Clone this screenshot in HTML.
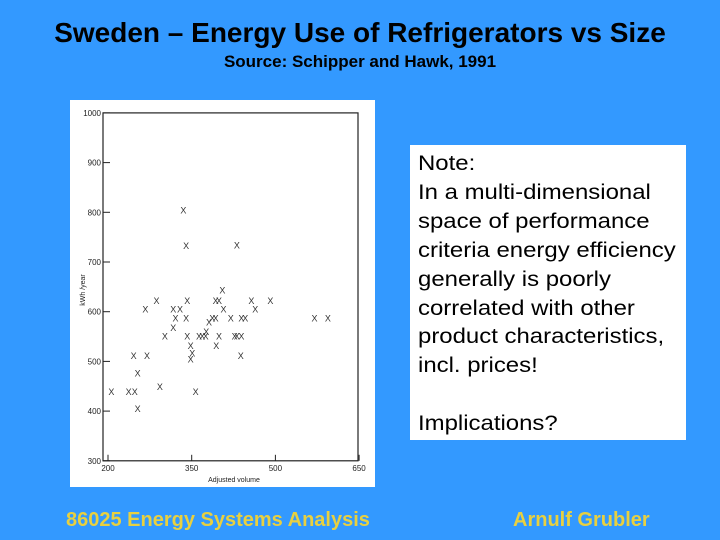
<!DOCTYPE html>
<html><head><meta charset="utf-8"><style>
body{margin:0;width:720px;height:540px;background:#3399ff;position:relative;overflow:hidden;font-family:"Liberation Sans",Arial,sans-serif}
.abs{position:absolute}
</style></head><body>
<div class="abs" style="left:0;width:720px;top:17px;text-align:center;font-weight:bold;font-size:28px;color:#000">Sweden – Energy Use of Refrigerators vs Size</div>
<div class="abs" style="left:0;width:720px;top:52px;text-align:center;font-weight:bold;font-size:17px;color:#000">Source: Schipper and Hawk, 1991</div>
<svg class="abs" style="left:0;top:0" width="720" height="540" id="chart">
<rect x="70" y="100" width="305" height="387" fill="#fff"/>
</svg>
<div class="abs" style="left:410px;top:145px;width:276px;height:295px;background:#fff;"></div>
<div class="abs" style="left:418px;top:150px;width:233px;font-size:21px;line-height:28.9px;color:#000;transform:scaleX(1.14);transform-origin:0 0">Note:<br>In a multi-dimensional space of performance criteria energy efficiency generally is poorly correlated with other product characteristics, incl. prices!<br><br>Implications?</div>
<div class="abs" style="left:66px;top:509px;font-weight:bold;font-size:20px;color:#e8d040">86025 Energy Systems Analysis</div>
<div class="abs" style="left:513px;top:509px;font-weight:bold;font-size:20px;color:#e8d040">Arnulf Grubler</div>
<script>
const volumes=[335,340,431,405,287,342,393,399,457,491,267,317,329,407,464,321,340,387,393,420,439,446,570,594,381,376,317,302,342,363,369,375,399,427,431,439,348,394,351,348,246,270,438,253,293,206,237,248,357,253];
const energy=[805,733,734,644,623,623,623,623,623,623,605,605,605,605,605,587,587,587,587,587,587,587,587,587,579,560,568,551,551,551,551,551,551,551,551,551,532,532,517,505,512,512,512,477,450,439,439,439,439,405];
const xTicks=[200,350,500,650];
const yTicks=[300,400,500,600,700,800,900,1000];
const NS='http://www.w3.org/2000/svg';
const svg=document.getElementById('chart');
function xs(v){return 108+(v-200)*0.558;}
function ys(v){return 212.3-(v-800)*0.497;}
function mk(t,a){const e=document.createElementNS(NS,t);for(const k in a)e.setAttribute(k,a[k]);svg.appendChild(e);return e;}
const frame=mk('rect',{x:103,y:ys(1000),width:255,height:ys(300)-ys(1000),fill:'none',stroke:'#222','stroke-width':1.2});


yTicks.forEach(v=>{
 const l=mk('line',{x1:103,x2:110,y1:ys(v),y2:ys(v),stroke:'#222'});
 
 
 const t=mk('text',{x:101,y:ys(v)+3,'text-anchor':'end','font-size':8,fill:'#222','font-family':'Liberation Sans, sans-serif'});
 t.textContent=v;
 
 
});
xTicks.forEach(v=>{
 const l=mk('line',{x1:xs(v),x2:xs(v),y1:ys(300),y2:ys(300)-6,stroke:'#222'});
 
 
 const t=mk('text',{x:xs(v),y:ys(300)+10,'text-anchor':'middle','font-size':8,fill:'#222','font-family':'Liberation Sans, sans-serif'});
 t.textContent=v;
 
 
});
const xt=mk('text',{x:234,y:482,'text-anchor':'middle','font-size':7,fill:'#222','font-family':'Liberation Sans, sans-serif'});
xt.textContent='Adjusted volume';


const yt=mk('text',{x:0,y:0,'text-anchor':'middle','font-size':7,fill:'#222','font-family':'Liberation Sans, sans-serif',transform:'translate(85,290) rotate(-90)'});
yt.textContent='kWh /year';


volumes.forEach((v,i)=>{
 const t=mk('text',{x:xs(v),y:ys(energy[i])+3.5,'text-anchor':'middle','font-size':9,fill:'#333','font-family':'Liberation Sans, sans-serif'});
 t.textContent='X';
 
 
});
</script>
</body></html>
